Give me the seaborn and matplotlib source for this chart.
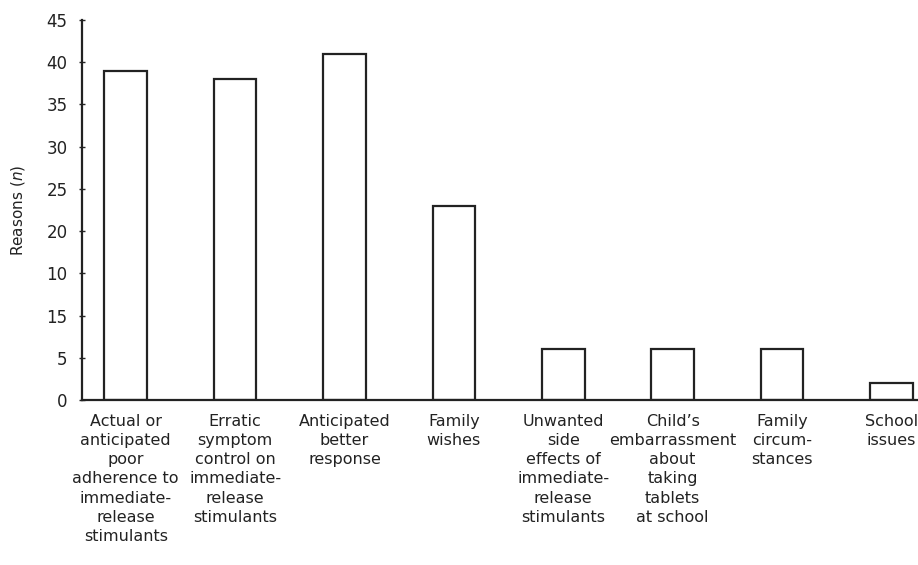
import matplotlib
matplotlib.use("Agg")
import matplotlib.pyplot as plt
import seaborn as sns
import pandas as pd

# reasons for switching
categories = [
    "Actual or\nanticipated\npoor\nadherence to\nimmediate-\nrelease\nstimulants",
    "Erratic\nsymptom\ncontrol on\nimmediate-\nrelease\nstimulants",
    "Anticipated\nbetter\nresponse",
    "Family\nwishes",
    "Unwanted\nside\neffects of\nimmediate-\nrelease\nstimulants",
    "Child\u2019s\nembarrassment\nabout\ntaking\ntablets\nat school",
    "Family\ncircum-\nstances",
    "School\nissues",
]
counts = [39, 38, 41, 23, 6, 6, 6, 2]

y_ticks = [0, 5, 10, 15, 20, 25, 30, 35, 40, 45]
# the original figure has 10 and 15 swapped on the axis
y_tick_labels = ["0", "5", "15", "10", "20", "25", "30", "35", "40", "45"]

df = pd.DataFrame({"reason": categories, "n": counts})

sns.set_style("ticks")
plt.rcParams["font.family"] = ["DejaVu Sans"]

fig = plt.figure(figsize=(9.18, 5.65), dpi=100)
# axes run past the right edge, the last bar sits against the border
ax = fig.add_axes([82 / 918, 165 / 565, (946 - 82) / 918, 380 / 565])

sns.barplot(data=df, x="reason", y="n", color="white", edgecolor="#222222",
            linewidth=1.6, width=0.39, ax=ax, saturation=1)

ax.set_xlim(-0.4, 7.5)
ax.set_ylim(0, 45)
ax.set_yticks(y_ticks)
ax.set_yticklabels(y_tick_labels, fontsize=12, color="#222222")
ax.tick_params(axis="y", direction="inout", length=5, width=1, pad=8)
ax.tick_params(axis="x", length=0, pad=10)
for lab in ax.get_xticklabels():
    lab.set_fontsize(11.5)
    lab.set_linespacing(1.35)
    lab.set_color("#222222")
    lab.set_verticalalignment("top")

ax.set_xlabel("")
ax.set_ylabel("Reasons ($\\it{n}$)", fontsize=11, color="#222222", labelpad=14)

sns.despine(ax=ax, top=True, right=True)
ax.spines["left"].set_linewidth(1.6)
ax.spines["bottom"].set_linewidth(1.6)
ax.spines["left"].set_color("#222222")
ax.spines["bottom"].set_color("#222222")

fig.savefig("out.png", dpi=100)
